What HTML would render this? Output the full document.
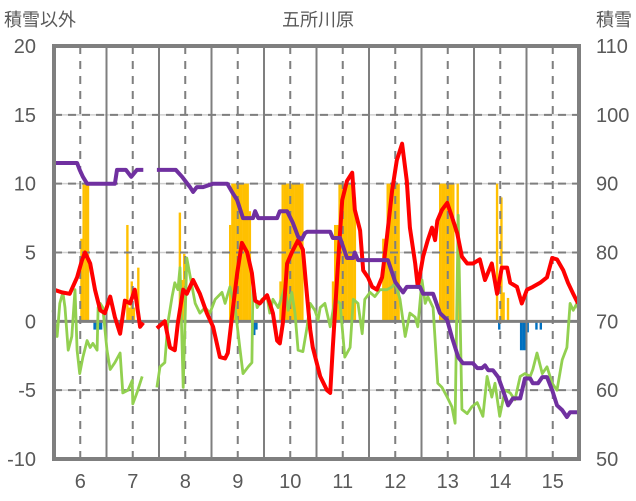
<!DOCTYPE html>
<html><head><meta charset="utf-8">
<style>
html,body{margin:0;padding:0;background:#fff;}
svg{display:block;font-family:"Liberation Sans","Noto Sans CJK JP",sans-serif;}
</style></head>
<body>
<svg id="chart" width="636" height="501" viewBox="0 0 636 501">
<text x="318" y="26" text-anchor="middle" font-size="18" fill="#595959">五所川原</text>
<text x="4" y="26" font-size="18" fill="#595959">積雪以外</text>
<text x="632" y="26" text-anchor="end" font-size="18" fill="#595959">積雪</text>
<g id="grid"></g>
<g id="bars"></g>
<g id="grid2"></g>
<g id="lines"></g>
<g id="axes"></g>
</svg>
<script>
// ---- data ----
const leftTicks = [20, 15, 10, 5, 0, -5, -10];
const rightTicks = [110, 100, 90, 80, 70, 60, 50];
const dayLabels = [6, 7, 8, 9, 10, 11, 12, 13, 14, 15];

const redT = [5.50,5.65,5.80,5.94,6.03,6.09,6.19,6.28,6.38,6.47,6.57,6.66,6.76,6.85,6.95,7.04,7.14,7.20,null,7.46,7.61,7.71,7.80,7.86,7.96,8.03,8.15,8.28,8.41,8.53,8.66,8.76,8.81,8.91,8.99,9.08,9.18,9.27,9.33,9.42,9.56,9.61,9.67,9.75,9.80,9.86,9.94,10.03,10.15,10.24,10.32,10.38,10.43,10.57,10.70,10.76,10.81,10.91,10.99,11.08,11.18,11.23,11.33,11.39,11.48,11.56,11.65,11.75,11.84,11.94,12.03,12.13,12.22,12.28,12.38,12.43,12.53,12.62,12.70,12.76,12.80,12.89,12.99,13.08,13.18,13.27,13.37,13.48,13.61,13.71,13.84,13.94,14.03,14.13,14.19,14.32,14.41,14.51,14.62,14.76,14.89,14.99,15.08,15.20,15.29,15.39,15.48];
const redV = [2.3,2.1,2.0,3.2,4.4,5.0,4.2,2.3,0.8,0.6,1.8,0.3,-0.9,1.5,1.3,2.3,-0.4,-0.1,null,-0.5,0.0,-1.9,-2.1,-0.1,2.3,2.0,3.0,2.0,0.6,-0.4,-2.6,-2.7,-2.3,1.0,3.5,5.7,5.0,3.5,1.5,1.3,1.9,1.3,0.6,-1.4,-1.6,-0.1,4.2,5.0,5.9,5.2,1.8,-0.6,-1.9,-4.0,-5.0,-5.2,-1.9,4.2,8.8,10.2,10.8,8.1,6.6,3.7,3.2,2.5,2.3,3.2,6.1,9.5,11.7,12.9,10.2,6.8,4.2,2.5,4.7,5.9,6.8,5.9,7.3,8.1,8.6,7.6,6.4,4.7,4.2,4.2,4.5,3.0,4.2,2.0,3.9,3.9,2.8,2.5,1.3,2.3,2.5,2.8,3.2,4.6,4.5,3.7,2.8,2.0,1.3];

const greenT = [5.48,5.56,5.61,5.67,5.71,5.77,5.84,5.90,5.94,5.99,6.05,6.13,6.19,6.24,6.32,6.34,6.38,6.43,6.51,6.57,6.66,6.76,6.81,6.91,6.99,7.00,7.08,7.18,null,7.46,7.52,7.61,7.67,7.75,7.80,7.86,7.90,7.96,8.03,8.13,8.19,8.28,8.38,8.47,8.57,8.70,8.76,8.85,8.95,9.04,9.10,9.20,9.27,9.29,9.37,9.46,9.56,9.61,9.67,9.77,9.84,9.90,9.96,10.03,10.09,10.15,10.24,10.32,10.38,10.47,10.53,10.57,10.66,10.76,10.85,10.95,11.04,11.14,11.20,11.29,11.37,11.42,11.52,11.61,11.71,11.84,11.94,12.00,12.09,12.19,12.28,12.38,12.43,12.51,12.57,12.62,12.72,12.81,12.89,12.99,13.08,13.14,13.20,13.27,13.37,13.46,13.56,13.67,13.75,13.84,13.90,13.99,14.09,14.19,14.28,14.38,14.47,14.57,14.62,14.70,14.80,14.89,14.99,15.08,15.18,15.27,15.33,15.39,15.46,15.50];
const greenV = [0.8,-1.1,1.3,2.1,1.0,-2.1,-1.1,2.3,-2.1,-3.8,-2.6,-1.4,-1.9,-1.6,-2.1,1.0,1.3,1.0,-2.1,-3.5,-3.0,-2.3,-5.2,-5.0,-4.3,-6.0,-5.2,-4.0,null,-4.8,-3.3,-3.0,-0.1,1.8,2.8,2.3,3.9,-4.8,4.6,2.5,1.3,0.6,1.0,0.6,1.6,2.1,1.3,2.5,1.0,-1.9,-3.8,-3.3,-3.0,2.8,1.0,1.6,1.8,0.6,1.6,1.0,1.8,2.5,0.8,2.1,0.6,-2.1,-2.2,-0.4,1.3,0.8,0.1,1.0,1.3,-0.4,1.6,1.3,-2.6,-1.9,1.6,1.3,-0.9,1.6,2.1,1.8,2.3,2.3,2.5,2.8,1.6,-1.1,0.6,0.3,-0.4,3.0,1.3,1.8,1.0,-4.5,-4.8,-5.5,-6.2,-7.4,7.7,-6.4,-6.7,-6.2,-5.9,-6.9,-4.0,-5.5,-4.5,-6.9,-5.0,-5.2,-5.7,-4.0,-3.8,-4.0,-3.5,-2.3,-3.8,-3.3,-4.5,-5.0,-2.8,-1.9,1.3,0.8,1.3,0.7];

const snowT = [5.50,5.94,5.99,6.05,6.13,6.66,6.70,6.87,6.97,7.08,7.20,null,7.46,7.82,7.94,8.09,8.15,8.22,8.34,8.53,8.80,8.89,8.99,9.10,9.29,9.33,9.39,9.75,9.80,9.94,10.05,10.15,10.22,10.28,10.32,10.76,10.81,10.95,11.08,11.20,11.23,11.29,11.86,12.00,12.15,12.22,12.47,12.53,12.72,12.85,12.99,13.08,13.20,13.29,13.48,13.56,13.65,13.71,13.77,13.86,13.96,14.05,14.15,14.24,14.38,14.47,14.57,14.62,14.72,14.80,14.89,14.99,15.08,15.18,15.27,15.33,15.48];
const snowV = [93,93,92,91,90,90,92,92,91,92,92,null,92,92,91,89.5,88.8,89.5,89.5,90,90,88.8,87.6,85,85,86,85,85,86,86,84.3,82.3,81.9,82.8,83,83,82.1,82.1,79.2,79.2,80,78.9,78.9,75.7,74.2,75,75,74,74,71.2,70.2,67.7,64.8,63.9,63.9,63.2,63.2,63.6,62.9,62.9,61.9,60,57.8,58.8,58.8,61.7,61.7,61,61,61.9,61.9,60,57.8,57.1,56.1,56.8,56.8];

// hourly bars: hours since day 5 12:00
const precipH = [12,13,14,15,33,34,35,36,38,57,58,59,80,81,82,83,84,85,86,87,88,89,103,104,105,106,107,108,109,110,111,112,113,127,128,129,130,131,132,133,134,135,136,137,150,151,152,153,154,155,156,157,176,177,178,179,180,181,182,184,202,204,205,207];
const precipV = [6,10,10,10,7,1,2.9,1,3.9,7.9,3,4.9,7,10,10,10,10,10,10,10,10,8,2.9,10,10,10,10,10,10,10,10,10,10,2.9,7,7,10,10,10,10,10,10,10,9,6,6,10,10,10,10,10,10,10,10,10,10,10,10,10,10,10,9,2.1,1.7,1.0,2.0];
const negH = [0,18,19,20,21,29,91,92,203,213,214,215,216,220,222];
const negV = [-0.6,-0.6,-0.6,-0.6,-0.6,-0.6,-1.0,-0.6,-0.6,-2.1,-2.1,-2.1,-0.8,-0.6,-0.6];

// ---- scales ----
const X0 = 54, X1 = 579, Y0 = 46, Y1 = 459;
const xMin = 5.5, xMax = 15.5;
const xS = t => X0 + (t - xMin) / (xMax - xMin) * (X1 - X0);
const yL = v => Y1 - (v + 10) / 30 * (Y1 - Y0);
const yR = v => Y1 - (v - 50) / 60 * (Y1 - Y0);
const hourW = (X1 - X0) / ((xMax - xMin) * 24);
const NS = 'http://www.w3.org/2000/svg';
function mk(tag, attrs, parent) {
  const e = document.createElementNS(NS, tag);
  for (const k in attrs) e.setAttribute(k, attrs[k]);
  parent.appendChild(e);
  return e;
}
const grid = document.getElementById('grid');
const grid2 = document.getElementById('grid2');
const bars = document.getElementById('bars');
const lines = document.getElementById('lines');
const axes = document.getElementById('axes');

leftTicks.forEach(v => {
  if (v === 20 || v === -10 || v === 0) return;
  const l = mk('line', {x1: X0, x2: X1, y1: yL(v), y2: yL(v), stroke: '#d0d0d0', 'stroke-width': 1.5}, grid);
  
  
  const d = mk('line', {x1: X0, x2: X1, y1: yL(v), y2: yL(v), stroke: '#7f7f7f', 'stroke-width': 2, 'stroke-dasharray': '8,6'}, grid2);
  
  
});
for (let d = 6; d <= 15; d++) {
  const s = mk('line', {x1: xS(d - 0.5), x2: xS(d - 0.5), y1: Y0, y2: Y1, stroke: '#7f7f7f', 'stroke-width': 2}, grid2);
  
  
  const n = mk('line', {x1: xS(d), x2: xS(d), y1: Y0, y2: Y1, stroke: '#7f7f7f', 'stroke-width': 2, 'stroke-dasharray': '8,7'}, grid2);
  
  
}
precipH.forEach((h, i) => {
  const x = X0 + h * hourW;
  const r = mk('rect', {x: x, y: yL(precipV[i]), width: hourW + 0.2, height: yL(0) - yL(precipV[i]), fill: '#FFC000'}, bars);
  
  
});
negH.forEach((h, i) => {
  const x = X0 + h * hourW;
  const r = mk('rect', {x: x, y: yL(0), width: hourW + 0.2, height: yL(negV[i]) - yL(0), fill: '#0070C0'}, bars);
  
  
});
const z = mk('line', {x1: X0, x2: X1, y1: yL(0), y2: yL(0), stroke: '#7f7f7f', 'stroke-width': 3}, grid2);



function pathFrom(T, V, yf) {
  let d = '', pen = false;
  T.forEach((t, i) => {
    if (t === null || V[i] === null) { pen = false; return; }
    d += (pen ? 'L' : 'M') + xS(t).toFixed(1) + ',' + yf(V[i]).toFixed(1);
    pen = true;
  });
  return d;
}
const g = mk('path', {d: pathFrom(greenT, greenV, yL), fill: 'none', stroke: '#92D050', 'stroke-width': 2.8, 'stroke-linejoin': 'round'}, lines);


const r = mk('path', {d: pathFrom(redT, redV, yL), fill: 'none', stroke: '#FF0000', 'stroke-width': 4, 'stroke-linejoin': 'round'}, lines);


const p = mk('path', {d: pathFrom(snowT, snowV, yR), fill: 'none', stroke: '#7030A0', 'stroke-width': 4, 'stroke-linejoin': 'round'}, lines);



const b = mk('rect', {x: X0, y: Y0, width: X1 - X0, height: Y1 - Y0, fill: 'none', stroke: '#7f7f7f', 'stroke-width': 4}, axes);


leftTicks.forEach(v => {
  const t = mk('text', {x: 36, y: yL(v) + 7, 'text-anchor': 'end', 'font-size': 20, fill: '#595959'}, axes);
  t.textContent = v;
  
  
});
rightTicks.forEach(v => {
  const t = mk('text', {x: 596, y: yR(v) + 7, 'font-size': 20, fill: '#595959'}, axes);
  t.textContent = v;
  
  
});
dayLabels.forEach(d => {
  const t = mk('text', {x: xS(d), y: 488, 'text-anchor': 'middle', 'font-size': 20, fill: '#595959'}, axes);
  t.textContent = d;
  
  
});
</script>
</body></html>
